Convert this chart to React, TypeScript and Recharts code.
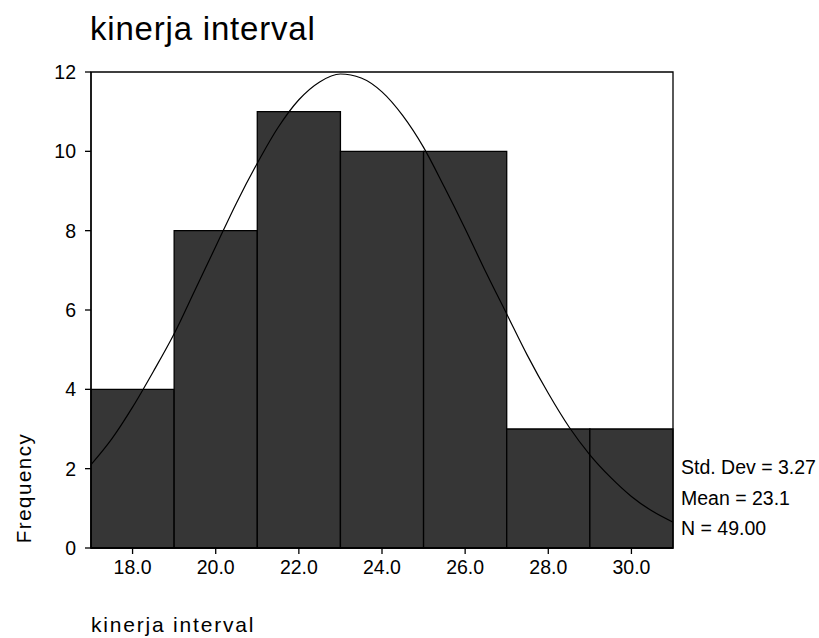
import React from 'react';
import { ComposedChart, Line, XAxis, YAxis, ReferenceArea } from 'recharts';

const binStarts = [17, 19, 21, 23, 25, 27, 29];
const binEnds = [19, 21, 23, 25, 27, 29, 31];
const frequencies = [4, 8, 11, 10, 10, 3, 3];

const curveX = [17, 17.5, 18, 18.5, 19, 19.5, 20, 20.5, 21, 21.5, 22, 22.5, 23, 23.5, 24, 24.5, 25, 25.5, 26, 26.5, 27, 27.5, 28, 28.5, 29, 29.5, 30, 30.5, 31];
const curveY = [2.1, 2.75, 3.55, 4.45, 5.4, 6.5, 7.6, 8.7, 9.7, 10.6, 11.3, 11.75, 11.95, 11.85, 11.5, 10.9, 10.1, 9.1, 8.05, 6.95, 5.9, 4.85, 3.9, 3.05, 2.35, 1.78, 1.3, 0.93, 0.65];

const xTicks = [18, 20, 22, 24, 26, 28, 30];
const yTicks = [0, 2, 4, 6, 8, 10, 12];

const titleText = 'kinerja interval';
const xLabelText = 'kinerja interval';
const yLabelText = 'Frequency';
const statsLines = ['Std. Dev = 3.27', 'Mean = 23.1', 'N = 49.00'];

const FONT = '"Liberation Sans", Arial, sans-serif';

const curveData = curveX.map((x, i) => ({ x, y: curveY[i] }));

export default function App() {
  return (
    <div style={{ position: 'absolute', left: 0, top: 0, width: 819, height: 638, background: '#fff' }}>
      <ComposedChart
        width={819}
        height={638}
        data={curveData}
        margin={{ top: 72, right: 146, left: 0, bottom: 60 }}
        style={{ fontFamily: FONT }}
      >
        <XAxis
          dataKey="x"
          type="number"
          domain={[17, 31]}
          ticks={xTicks}
          tickFormatter={(v: number) => v.toFixed(1)}
          allowDataOverflow
          height={30}
          tickSize={6}
          tickMargin={6}
          axisLine={{ stroke: '#000', strokeWidth: 1.3 }}
          tickLine={{ stroke: '#000', strokeWidth: 1.3 }}
          tick={{ fill: '#000', fontSize: 19.5, fontFamily: FONT }}
        />
        <YAxis
          type="number"
          domain={[0, 12]}
          ticks={yTicks}
          allowDataOverflow
          width={91}
          tickSize={6}
          tickMargin={9}
          axisLine={{ stroke: '#000', strokeWidth: 1.3 }}
          tickLine={{ stroke: '#000', strokeWidth: 1.3 }}
          tick={{ fill: '#000', fontSize: 19.5, fontFamily: FONT }}
        />
        {binStarts.map((s, i) => (
          <ReferenceArea
            key={i}
            x1={s}
            x2={binEnds[i]}
            y1={0}
            y2={frequencies[i]}
            fill="#363636"
            fillOpacity={1}
            stroke="#000"
            strokeWidth={1.3}
            strokeOpacity={1}
          />
        ))}
        <ReferenceArea
          x1={17}
          x2={31}
          y1={0}
          y2={12}
          fill="none"
          fillOpacity={0}
          stroke="#000"
          strokeWidth={1.3}
          strokeOpacity={1}
        />
        <Line
          dataKey="y"
          type="monotone"
          stroke="#000"
          strokeWidth={1.2}
          dot={false}
          activeDot={false}
          isAnimationActive={false}
        />
      </ComposedChart>
      <svg
        width={819}
        height={638}
        style={{ position: 'absolute', left: 0, top: 0, pointerEvents: 'none', fontFamily: FONT }}
      >
        <text x={90} y={40} fontSize={33} letterSpacing={0.8} fill="#000">{titleText}</text>
        <text x={91} y={632} fontSize={21} letterSpacing={1.8} fill="#000">{xLabelText}</text>
        <text
          x={31}
          y={488}
          fontSize={20.5}
          letterSpacing={1.5}
          textAnchor="middle"
          transform="rotate(-90, 31, 488)"
          fill="#000"
        >
          {yLabelText}
        </text>
        {statsLines.map((t, i) => (
          <text key={i} x={681} y={[474, 505, 535][i]} fontSize={19.5} fill="#000">{t}</text>
        ))}
      </svg>
    </div>
  );
}
